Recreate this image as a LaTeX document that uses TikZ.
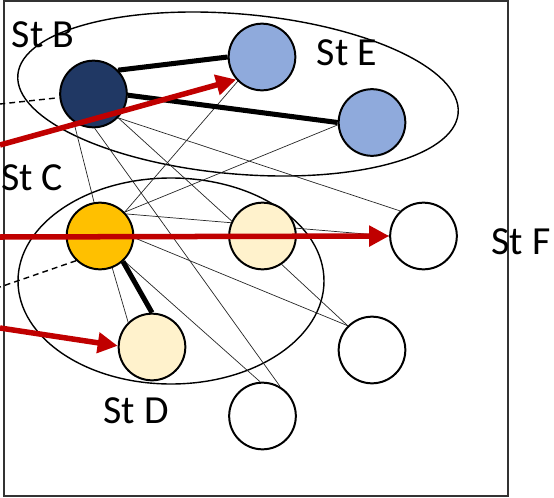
\documentclass[tikz,border=0pt]{standalone}
\usepackage{fontspec}
\setmainfont{Carlito}
\usetikzlibrary{arrows.meta,backgrounds}
\definecolor{navy}{HTML}{203864}
\definecolor{paleblue}{HTML}{8FAADC}
\definecolor{amber}{HTML}{FFC000}
\definecolor{cream}{HTML}{FFF2CC}
\definecolor{darkred}{HTML}{C00000}
\begin{document}
\begin{tikzpicture}[x=0.03cm,y=-0.03cm,
    st/.style={circle,draw=black,line width=1.7pt,minimum size=2cm,inner sep=0pt},
    lbl/.style={font=\fontsize{34}{40}\selectfont},
    link/.style={black!85,line width=0.6pt},
    tie/.style={black,line width=4.3pt},
    move/.style={darkred,line width=4.7pt,-{Triangle[length=0.6cm,width=0.6cm]}}]
    \useasboundingbox (0,0) rectangle (554,497);
    \draw[black!80,line width=0.9pt] (4,1) rectangle (508,496);
    % states
    \node[st,fill=navy] (B) at (93.5,94) {};
    \node[st,fill=paleblue] (E1) at (262,57) {};
    \node[st,fill=paleblue] (E2) at (372,122.5) {};
    \node[st,fill=amber] (C) at (100,236) {};
    \node[st,fill=cream] (C2) at (262.5,236) {};
    \node[st,fill=white] (F) at (423.5,236) {};
    \node[st,fill=cream] (D) at (152,347) {};
    \node[st,fill=white] (W1) at (372,350) {};
    \node[st,fill=white] (W2) at (262.5,416) {};
    \begin{pgfonlayer}{background}
        % groups
        \draw[line width=1.2pt,rotate around={-5:(238,94)}] (238,94) ellipse [x radius=221,y radius=80];
        \draw[line width=1.2pt] (171,281) ellipse [x radius=153,y radius=103];
        % thin links
        \draw[link] (B.235) -- (C.100);
        \draw[link] (B.-88) -- (W2.59);
        \draw[link] (B.-44) -- (C2.154);
        \draw[link] (B.-44) -- (F.133);
        \draw[link] (C.44) -- (E1.225);
        \draw[link] (C.44) -- (E2.184);
        \draw[link] (C.-3) -- (W1.135);
        \draw[link] (C.-46) -- (W2.94);
        \draw[link] (C.-69) -- (D.134);
        \draw[link] (C2.-56) -- (W1.135);
        \draw[link] (C.40) -- (F.180);
        % strong ties
        \draw[tie] (B.44) -- (E1.180);
        \draw[tie] (B.-2) -- (E2.180);
        \draw[tie] (C.-48) -- (D.90);
    \end{pgfonlayer}
    % outside links
    \coordinate (bout) at (0,104);
    \coordinate (cout) at (0,287);
    \draw[line width=1.2pt,dash pattern=on 5pt off 3.5pt,shorten <=4] (B) -- (bout);
    \draw[line width=1.2pt,dash pattern=on 5pt off 3.5pt] (C.226) -- (cout);
    % moves
    \coordinate (m1) at (0,145);
    \coordinate (m2) at (0,237);
    \coordinate (m3) at (0,328);
    \draw[move] (m1) -- (E1.221);
    \draw[move] (m2) -- (F.180);
    \draw[move] (m3) -- (D.178);
    % labels
    \node[lbl] (labB) at (43,35) {St B};
    \node[lbl] (labE) at (347,53) {St E};
    \node[lbl] (labC) at (32,178) {St C};
    \node[lbl] (labF) at (521,242) {St F};
    \node[lbl] (labD) at (136,411) {St D};
\end{tikzpicture}
\end{document}
